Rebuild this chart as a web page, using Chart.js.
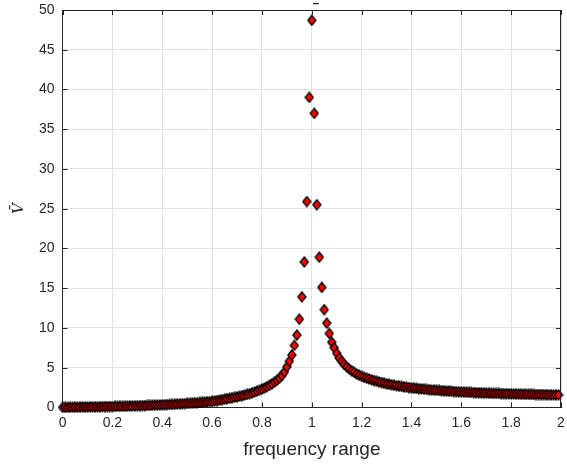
<!DOCTYPE html>
<html>
<head>
<meta charset="utf-8">
<script src="https://cdn.jsdelivr.net/npm/chart.js@4"></script>
<style>
  html, body { margin: 0; padding: 0; background: #fff; }
  #wrap { width: 567px; height: 464px; }
</style>
</head>
<body>
<div id="wrap"><canvas id="chart"></canvas></div>
<script>
// frequency ratio (x) and response (y)
const freq = [
  0.00, 0.01, 0.02, 0.03, 0.04, 0.05, 0.06, 0.07, 0.08, 0.09,
  0.10, 0.11, 0.12, 0.13, 0.14, 0.15, 0.16, 0.17, 0.18, 0.19,
  0.20, 0.21, 0.22, 0.23, 0.24, 0.25, 0.26, 0.27, 0.28, 0.29,
  0.30, 0.31, 0.32, 0.33, 0.34, 0.35, 0.36, 0.37, 0.38, 0.39,
  0.40, 0.41, 0.42, 0.43, 0.44, 0.45, 0.46, 0.47, 0.48, 0.49,
  0.50, 0.51, 0.52, 0.53, 0.54, 0.55, 0.56, 0.57, 0.58, 0.59,
  0.60, 0.61, 0.62, 0.63, 0.64, 0.65, 0.66, 0.67, 0.68, 0.69,
  0.70, 0.71, 0.72, 0.73, 0.74, 0.75, 0.76, 0.77, 0.78, 0.79,
  0.80, 0.81, 0.82, 0.83, 0.84, 0.85, 0.86, 0.87, 0.88, 0.89,
  0.90, 0.91, 0.92, 0.93, 0.94, 0.95, 0.96, 0.97, 0.98, 0.99,
  1.00, 1.01, 1.02, 1.03, 1.04, 1.05, 1.06, 1.07, 1.08, 1.09,
  1.10, 1.11, 1.12, 1.13, 1.14, 1.15, 1.16, 1.17, 1.18, 1.19,
  1.20, 1.21, 1.22, 1.23, 1.24, 1.25, 1.26, 1.27, 1.28, 1.29,
  1.30, 1.31, 1.32, 1.33, 1.34, 1.35, 1.36, 1.37, 1.38, 1.39,
  1.40, 1.41, 1.42, 1.43, 1.44, 1.45, 1.46, 1.47, 1.48, 1.49,
  1.50, 1.51, 1.52, 1.53, 1.54, 1.55, 1.56, 1.57, 1.58, 1.59,
  1.60, 1.61, 1.62, 1.63, 1.64, 1.65, 1.66, 1.67, 1.68, 1.69,
  1.70, 1.71, 1.72, 1.73, 1.74, 1.75, 1.76, 1.77, 1.78, 1.79,
  1.80, 1.81, 1.82, 1.83, 1.84, 1.85, 1.86, 1.87, 1.88, 1.89,
  1.90, 1.91, 1.92, 1.93, 1.94, 1.95, 1.96, 1.97, 1.98, 1.99
]
const vbar = [
  0.00, 0.01, 0.01, 0.02, 0.02, 0.03, 0.03, 0.04, 0.04, 0.05,
  0.05, 0.06, 0.06, 0.07, 0.07, 0.08, 0.09, 0.09, 0.10, 0.11,
  0.11, 0.12, 0.13, 0.14, 0.14, 0.15, 0.16, 0.17, 0.18, 0.19,
  0.20, 0.21, 0.22, 0.23, 0.24, 0.25, 0.27, 0.28, 0.29, 0.31,
  0.32, 0.34, 0.35, 0.37, 0.38, 0.40, 0.42, 0.44, 0.46, 0.48,
  0.50, 0.52, 0.54, 0.57, 0.59, 0.62, 0.64, 0.67, 0.70, 0.73,
  0.76, 0.81, 0.86, 0.91, 0.97, 1.03, 1.09, 1.15, 1.21, 1.27,
  1.33, 1.40, 1.47, 1.55, 1.63, 1.72, 1.82, 1.93, 2.05, 2.17,
  2.30, 2.44, 2.60, 2.77, 2.96, 3.17, 3.40, 3.67, 4.00, 4.45,
  5.10, 5.80, 6.60, 7.80, 9.10, 11.1, 13.9, 18.3, 25.9, 39.0,
  48.7, 37.0, 25.5, 18.9, 15.1, 12.3, 10.6, 9.30, 8.20, 7.50,
  6.80, 6.20, 5.80, 5.40, 5.10, 4.85, 4.60, 4.40, 4.20, 4.05,
  3.90, 3.78, 3.67, 3.57, 3.47, 3.38, 3.29, 3.21, 3.13, 3.04,
  2.97, 2.91, 2.85, 2.79, 2.73, 2.68, 2.63, 2.58, 2.54, 2.49,
  2.45, 2.42, 2.38, 2.35, 2.32, 2.29, 2.26, 2.23, 2.20, 2.18,
  2.15, 2.13, 2.10, 2.08, 2.06, 2.04, 2.02, 2.00, 1.98, 1.96,
  1.94, 1.93, 1.91, 1.90, 1.88, 1.87, 1.85, 1.84, 1.82, 1.81,
  1.80, 1.79, 1.78, 1.77, 1.76, 1.75, 1.74, 1.73, 1.72, 1.71,
  1.70, 1.69, 1.68, 1.67, 1.67, 1.66, 1.65, 1.64, 1.64, 1.63,
  1.62, 1.62, 1.61, 1.60, 1.60, 1.59, 1.58, 1.58, 1.57, 1.57
]
const xTicks = [0, 0.2, 0.4, 0.6, 0.8, 1, 1.2, 1.4, 1.6, 1.8, 2]
const yTicks = [0, 5, 10, 15, 20, 25, 30, 35, 40, 45, 50]

const axisColor = '#262626'
const gridColor = '#e3e3e3'

// tall diamond marker like matlab's 'd'
function makeDiamond() {
  const c = document.createElement('canvas')
  c.width = 10
  c.height = 12
  const g = c.getContext('2d')
  g.beginPath()
  g.moveTo(5, 1)
  g.lineTo(9, 6)
  g.lineTo(5, 11)
  g.lineTo(1, 6)
  g.closePath()
  g.fillStyle = '#ff0000'
  g.fill()
  g.strokeStyle = '#000'
  g.lineWidth = 1.3
  g.stroke()
  return c
}

// box around the axes + inward ticks on all four sides
const boxPlugin = {
  id: 'box',
  afterDatasetsDraw(chart) {
    const ctx = chart.ctx
    const a = chart.chartArea
    const sx = chart.scales.x
    const sy = chart.scales.y
    const len = 5
    ctx.save()
    ctx.strokeStyle = axisColor
    ctx.lineWidth = 1
    ctx.beginPath()
    ctx.moveTo(a.left, a.top + 0.5)
    ctx.lineTo(a.right, a.top + 0.5)
    ctx.moveTo(a.right - 0.5, a.top)
    ctx.lineTo(a.right - 0.5, a.bottom)
    xTicks.forEach((t) => {
      const px = Math.round(sx.getPixelForValue(t)) + 0.5
      ctx.moveTo(px, a.bottom)
      ctx.lineTo(px, a.bottom - len)
      ctx.moveTo(px, a.top)
      ctx.lineTo(px, a.top + len)
    })
    yTicks.forEach((t) => {
      const py = Math.round(sy.getPixelForValue(t)) + 0.5
      ctx.moveTo(a.left, py)
      ctx.lineTo(a.left + len, py)
      ctx.moveTo(a.right, py)
      ctx.lineTo(a.right - len, py)
    })
    ctx.stroke()
    // clipped title remnant above the axes
    ctx.fillStyle = axisColor
    ctx.font = 'bold 12px "Liberation Sans"'
    ctx.textAlign = 'center'
    ctx.textBaseline = 'middle'
    ctx.fillText('\u2013', (a.left + a.right) / 2 + 4, 4)
    ctx.restore()
  }
}

const ctx = document.getElementById('chart').getContext('2d')
const myChart = new Chart(ctx, {
  type: 'scatter',
  data: {
    datasets: [{
      data: freq.map((f, i) => ({ x: f, y: vbar[i] })),
      pointStyle: makeDiamond(),
      pointRadius: 5,
      clip: false
    }]
  },
  options: {
    responsive: true,
    maintainAspectRatio: false,
    animation: false,
    events: [],
    layout: { padding: { left: 5, right: 0, top: 10, bottom: 0 } },
    plugins: {
      legend: { display: false },
      tooltip: { enabled: false }
    },
    scales: {
      x: {
        type: 'linear',
        min: 0,
        max: 2,
        afterBuildTicks: (scale) => { scale.ticks = xTicks.map((v) => ({ value: v })) },
        afterFit: (scale) => { scale.paddingRight = 4 },
        ticks: {
          color: axisColor,
          font: { family: '"Liberation Sans"', size: 14 },
          padding: 7,
          maxRotation: 0,
          callback: (v) => String(v)
        },
        grid: { color: gridColor, drawTicks: false },
        border: { color: axisColor, width: 1 },
        title: {
          display: true,
          text: 'frequency range',
          color: axisColor,
          font: { family: '"Liberation Sans"', size: 19 },
          padding: { top: 0, bottom: 3 }
        }
      },
      y: {
        type: 'linear',
        min: 0,
        max: 50,
        afterBuildTicks: (scale) => { scale.ticks = yTicks.map((v) => ({ value: v })) },
        afterFit: (scale) => { scale.paddingTop = 0 },
        ticks: {
          color: axisColor,
          font: { family: '"Liberation Sans"', size: 14 },
          padding: 8,
          callback: (v) => String(v)
        },
        grid: { color: gridColor, drawTicks: false },
        border: { color: axisColor, width: 1 },
        title: {
          display: true,
          text: 'V\u0304',
          color: axisColor,
          font: { family: '"DejaVu Serif"', size: 15, style: 'italic' },
          padding: { top: 5, bottom: 3 }
        }
      }
    }
  },
  plugins: [boxPlugin]
})
</script>
</body>
</html>
